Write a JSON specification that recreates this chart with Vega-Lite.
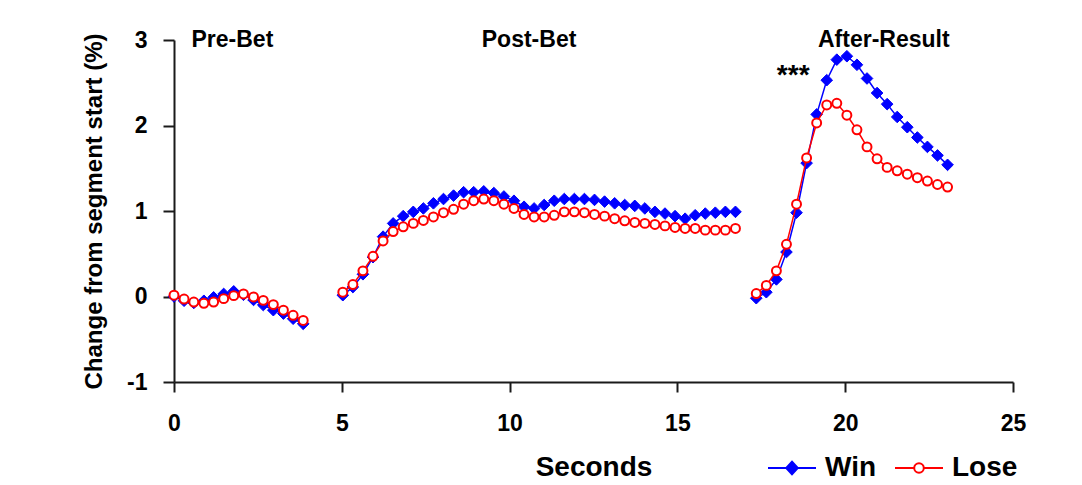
{
  "$schema": "https://vega.github.io/schema/vega-lite/v6.json",
  "width": 839,
  "height": 342,
  "autosize": {"type": "none"},
  "padding": {"left": 174, "top": 40, "right": 69, "bottom": 103},
  "background": "white",
  "config": {
    "view": {"stroke": null},
    "font": "Liberation Sans",
    "axis": {
      "grid": false,
      "domainColor": "#1a1a1a",
      "domainWidth": 2,
      "tickColor": "#1a1a1a",
      "tickWidth": 2,
      "labelFont": "Liberation Sans",
      "labelFontWeight": "bold",
      "labelColor": "#000000",
      "labelFontSize": 23,
      "titleFont": "Liberation Sans",
      "titleFontWeight": "bold",
      "titleColor": "#000000",
      "labelFlush": false,
      "labelOverlap": false
    }
  },
  "datasets": {
    "d": [
      {"t":0,"v":0.0,"s":"Win","g":"pre"},{"t":0.30,"v":-0.05,"s":"Win","g":"pre"},{"t":0.59,"v":-0.075,"s":"Win","g":"pre"},{"t":0.89,"v":-0.05,"s":"Win","g":"pre"},{"t":1.18,"v":-0.01,"s":"Win","g":"pre"},{"t":1.48,"v":0.03,"s":"Win","g":"pre"},{"t":1.78,"v":0.06,"s":"Win","g":"pre"},{"t":2.07,"v":0.02,"s":"Win","g":"pre"},{"t":2.37,"v":-0.04,"s":"Win","g":"pre"},{"t":2.66,"v":-0.10,"s":"Win","g":"pre"},{"t":2.96,"v":-0.16,"s":"Win","g":"pre"},{"t":3.26,"v":-0.20,"s":"Win","g":"pre"},{"t":3.55,"v":-0.26,"s":"Win","g":"pre"},{"t":3.85,"v":-0.32,"s":"Win","g":"pre"},
      {"t":5.03,"v":0.015,"s":"Win","g":"post"},{"t":5.33,"v":0.11,"s":"Win","g":"post"},{"t":5.63,"v":0.26,"s":"Win","g":"post"},{"t":5.93,"v":0.46,"s":"Win","g":"post"},{"t":6.23,"v":0.70,"s":"Win","g":"post"},{"t":6.53,"v":0.855,"s":"Win","g":"post"},{"t":6.83,"v":0.94,"s":"Win","g":"post"},{"t":7.13,"v":0.99,"s":"Win","g":"post"},{"t":7.43,"v":1.03,"s":"Win","g":"post"},{"t":7.73,"v":1.09,"s":"Win","g":"post"},{"t":8.03,"v":1.14,"s":"Win","g":"post"},{"t":8.33,"v":1.18,"s":"Win","g":"post"},{"t":8.63,"v":1.22,"s":"Win","g":"post"},{"t":8.93,"v":1.22,"s":"Win","g":"post"},{"t":9.23,"v":1.23,"s":"Win","g":"post"},{"t":9.53,"v":1.21,"s":"Win","g":"post"},{"t":9.83,"v":1.17,"s":"Win","g":"post"},{"t":10.13,"v":1.12,"s":"Win","g":"post"},{"t":10.43,"v":1.05,"s":"Win","g":"post"},{"t":10.73,"v":1.03,"s":"Win","g":"post"},{"t":11.03,"v":1.07,"s":"Win","g":"post"},{"t":11.33,"v":1.12,"s":"Win","g":"post"},{"t":11.63,"v":1.14,"s":"Win","g":"post"},{"t":11.93,"v":1.14,"s":"Win","g":"post"},{"t":12.23,"v":1.14,"s":"Win","g":"post"},{"t":12.53,"v":1.13,"s":"Win","g":"post"},{"t":12.83,"v":1.11,"s":"Win","g":"post"},{"t":13.13,"v":1.09,"s":"Win","g":"post"},{"t":13.43,"v":1.07,"s":"Win","g":"post"},{"t":13.73,"v":1.06,"s":"Win","g":"post"},{"t":14.03,"v":1.03,"s":"Win","g":"post"},{"t":14.33,"v":0.99,"s":"Win","g":"post"},{"t":14.63,"v":0.97,"s":"Win","g":"post"},{"t":14.93,"v":0.94,"s":"Win","g":"post"},{"t":15.23,"v":0.91,"s":"Win","g":"post"},{"t":15.53,"v":0.95,"s":"Win","g":"post"},{"t":15.83,"v":0.97,"s":"Win","g":"post"},{"t":16.13,"v":0.98,"s":"Win","g":"post"},{"t":16.43,"v":0.99,"s":"Win","g":"post"},{"t":16.73,"v":0.99,"s":"Win","g":"post"},
      {"t":17.35,"v":-0.02,"s":"Win","g":"after"},{"t":17.65,"v":0.05,"s":"Win","g":"after"},{"t":17.95,"v":0.20,"s":"Win","g":"after"},{"t":18.25,"v":0.52,"s":"Win","g":"after"},{"t":18.55,"v":0.98,"s":"Win","g":"after"},{"t":18.85,"v":1.56,"s":"Win","g":"after"},{"t":19.15,"v":2.13,"s":"Win","g":"after"},{"t":19.45,"v":2.53,"s":"Win","g":"after"},{"t":19.75,"v":2.77,"s":"Win","g":"after"},{"t":20.05,"v":2.81,"s":"Win","g":"after"},{"t":20.35,"v":2.71,"s":"Win","g":"after"},{"t":20.65,"v":2.55,"s":"Win","g":"after"},{"t":20.95,"v":2.38,"s":"Win","g":"after"},{"t":21.25,"v":2.25,"s":"Win","g":"after"},{"t":21.55,"v":2.10,"s":"Win","g":"after"},{"t":21.85,"v":1.98,"s":"Win","g":"after"},{"t":22.15,"v":1.86,"s":"Win","g":"after"},{"t":22.45,"v":1.75,"s":"Win","g":"after"},{"t":22.75,"v":1.65,"s":"Win","g":"after"},{"t":23.05,"v":1.54,"s":"Win","g":"after"},
      {"t":0,"v":0.015,"s":"Lose","g":"pre"},{"t":0.30,"v":-0.03,"s":"Lose","g":"pre"},{"t":0.59,"v":-0.065,"s":"Lose","g":"pre"},{"t":0.89,"v":-0.08,"s":"Lose","g":"pre"},{"t":1.18,"v":-0.065,"s":"Lose","g":"pre"},{"t":1.48,"v":-0.025,"s":"Lose","g":"pre"},{"t":1.78,"v":0.01,"s":"Lose","g":"pre"},{"t":2.07,"v":0.03,"s":"Lose","g":"pre"},{"t":2.37,"v":-0.005,"s":"Lose","g":"pre"},{"t":2.66,"v":-0.045,"s":"Lose","g":"pre"},{"t":2.96,"v":-0.095,"s":"Lose","g":"pre"},{"t":3.26,"v":-0.16,"s":"Lose","g":"pre"},{"t":3.55,"v":-0.22,"s":"Lose","g":"pre"},{"t":3.85,"v":-0.28,"s":"Lose","g":"pre"},
      {"t":5.03,"v":0.05,"s":"Lose","g":"post"},{"t":5.33,"v":0.14,"s":"Lose","g":"post"},{"t":5.63,"v":0.30,"s":"Lose","g":"post"},{"t":5.93,"v":0.47,"s":"Lose","g":"post"},{"t":6.23,"v":0.65,"s":"Lose","g":"post"},{"t":6.53,"v":0.76,"s":"Lose","g":"post"},{"t":6.83,"v":0.815,"s":"Lose","g":"post"},{"t":7.13,"v":0.855,"s":"Lose","g":"post"},{"t":7.43,"v":0.89,"s":"Lose","g":"post"},{"t":7.73,"v":0.93,"s":"Lose","g":"post"},{"t":8.03,"v":0.98,"s":"Lose","g":"post"},{"t":8.33,"v":1.02,"s":"Lose","g":"post"},{"t":8.63,"v":1.08,"s":"Lose","g":"post"},{"t":8.93,"v":1.12,"s":"Lose","g":"post"},{"t":9.23,"v":1.14,"s":"Lose","g":"post"},{"t":9.53,"v":1.12,"s":"Lose","g":"post"},{"t":9.83,"v":1.08,"s":"Lose","g":"post"},{"t":10.13,"v":1.03,"s":"Lose","g":"post"},{"t":10.43,"v":0.96,"s":"Lose","g":"post"},{"t":10.73,"v":0.93,"s":"Lose","g":"post"},{"t":11.03,"v":0.93,"s":"Lose","g":"post"},{"t":11.33,"v":0.95,"s":"Lose","g":"post"},{"t":11.63,"v":0.99,"s":"Lose","g":"post"},{"t":11.93,"v":0.99,"s":"Lose","g":"post"},{"t":12.23,"v":0.98,"s":"Lose","g":"post"},{"t":12.53,"v":0.96,"s":"Lose","g":"post"},{"t":12.83,"v":0.94,"s":"Lose","g":"post"},{"t":13.13,"v":0.91,"s":"Lose","g":"post"},{"t":13.43,"v":0.885,"s":"Lose","g":"post"},{"t":13.73,"v":0.866,"s":"Lose","g":"post"},{"t":14.03,"v":0.855,"s":"Lose","g":"post"},{"t":14.33,"v":0.843,"s":"Lose","g":"post"},{"t":14.63,"v":0.826,"s":"Lose","g":"post"},{"t":14.93,"v":0.808,"s":"Lose","g":"post"},{"t":15.23,"v":0.796,"s":"Lose","g":"post"},{"t":15.53,"v":0.796,"s":"Lose","g":"post"},{"t":15.83,"v":0.776,"s":"Lose","g":"post"},{"t":16.13,"v":0.776,"s":"Lose","g":"post"},{"t":16.43,"v":0.776,"s":"Lose","g":"post"},{"t":16.73,"v":0.796,"s":"Lose","g":"post"},
      {"t":17.35,"v":0.035,"s":"Lose","g":"after"},{"t":17.65,"v":0.13,"s":"Lose","g":"after"},{"t":17.95,"v":0.30,"s":"Lose","g":"after"},{"t":18.25,"v":0.61,"s":"Lose","g":"after"},{"t":18.55,"v":1.08,"s":"Lose","g":"after"},{"t":18.85,"v":1.62,"s":"Lose","g":"after"},{"t":19.15,"v":2.03,"s":"Lose","g":"after"},{"t":19.45,"v":2.24,"s":"Lose","g":"after"},{"t":19.75,"v":2.26,"s":"Lose","g":"after"},{"t":20.05,"v":2.12,"s":"Lose","g":"after"},{"t":20.35,"v":1.95,"s":"Lose","g":"after"},{"t":20.65,"v":1.75,"s":"Lose","g":"after"},{"t":20.95,"v":1.61,"s":"Lose","g":"after"},{"t":21.25,"v":1.51,"s":"Lose","g":"after"},{"t":21.55,"v":1.47,"s":"Lose","g":"after"},{"t":21.85,"v":1.43,"s":"Lose","g":"after"},{"t":22.15,"v":1.39,"s":"Lose","g":"after"},{"t":22.45,"v":1.35,"s":"Lose","g":"after"},{"t":22.75,"v":1.31,"s":"Lose","g":"after"},{"t":23.05,"v":1.28,"s":"Lose","g":"after"}
    ],
    "seg": [
      {"t": 1.74, "v": 3.0, "label": "Pre-Bet"},
      {"t": 10.58, "v": 3.0, "label": "Post-Bet"},
      {"t": 21.15, "v": 3.0, "label": "After-Result"}
    ],
    "sig": [
      {"t": 18.45, "v": 2.48, "label": "***"}
    ]
  },
  "encoding": {
    "x": {
      "field": "t", "type": "quantitative",
      "scale": {"domain": [0, 25], "nice": false, "zero": false},
      "axis": {"orient": "bottom", "values": [0, 5, 10, 15, 20, 25], "title": "Seconds", "titleFontSize": 28, "tickSize": 10, "labelPadding": 20, "titlePadding": 18}
    },
    "y": {
      "field": "v", "type": "quantitative",
      "scale": {"domain": [-1, 3], "nice": false, "zero": false},
      "axis": {"orient": "left", "values": [-1, 0, 1, 2, 3], "labelExpr": "datum.value", "title": "Change from segment start (%)", "titleFontSize": 24, "tickSize": 11, "labelPadding": 16, "titlePadding": 20}
    }
  },
  "layer": [
    {
      "data": {"name": "d"},
      "transform": [{"filter": "datum.s === 'Win'"}],
      "mark": {"type": "line", "stroke": "#0000FF", "strokeWidth": 1.5},
      "encoding": {"detail": {"field": "g"}}
    },
    {
      "data": {"name": "d"},
      "transform": [{"filter": "datum.s === 'Win'"}],
      "mark": {"type": "point", "shape": "diamond", "filled": true, "fill": "#0000FF", "stroke": "#0000FF", "size": 135, "strokeWidth": 1, "opacity": 1}
    },
    {
      "data": {"name": "d"},
      "transform": [{"filter": "datum.s === 'Lose'"}],
      "mark": {"type": "line", "stroke": "#FF0000", "strokeWidth": 1.5},
      "encoding": {"detail": {"field": "g"}}
    },
    {
      "data": {"name": "d"},
      "transform": [{"filter": "datum.s === 'Lose'"}],
      "mark": {"type": "point", "shape": "circle", "filled": true, "fill": "#FFFFFF", "stroke": "#FF0000", "size": 80, "strokeWidth": 2, "opacity": 1}
    },
    {
      "data": {"name": "d"},
      "transform": [{"filter": "false"}],
      "mark": {"type": "point", "filled": true, "opacity": 1, "strokeWidth": 2, "size": 2304},
      "encoding": {
        "shape": {
          "field": "s", "type": "nominal",
          "scale": {"domain": ["Win", "Lose"], "range": ["M-1,0L1,0M0,-0.26L0.24,0L0,0.26L-0.24,0Z", "M-1,0L-0.2,0M0.2,0L1,0M0.2,0A0.2,0.2,0,1,1,-0.2,0A0.2,0.2,0,1,1,0.2,0Z"]},
          "legend": {
            "title": null,
            "orient": "none",
            "legendX": 593,
            "legendY": 403,
            "direction": "horizontal",
            "symbolSize": 2304,
            "symbolStrokeWidth": 2,
            "labelFont": "Liberation Sans",
            "labelFontSize": 28,
            "labelFontWeight": "bold",
            "labelColor": "#000000",
            "labelOffset": 8,
            "columnPadding": 14
          }
        },
        "stroke": {
          "field": "s", "type": "nominal",
          "scale": {"domain": ["Win", "Lose"], "range": ["#0000FF", "#FF0000"]},
          "legend": {"title": null}
        },
        "fill": {
          "field": "s", "type": "nominal",
          "scale": {"domain": ["Win", "Lose"], "range": ["#0000FF", "#FFFFFF"]},
          "legend": {"title": null}
        }
      }
    },
    {
      "data": {"name": "seg"},
      "mark": {"type": "text", "font": "Liberation Sans", "fontWeight": "bold", "fontSize": 23, "color": "#000000", "baseline": "middle", "align": "center"},
      "encoding": {"text": {"field": "label"}}
    },
    {
      "data": {"name": "sig"},
      "mark": {"type": "text", "font": "Liberation Sans", "fontWeight": "bold", "fontSize": 28, "color": "#000000", "baseline": "alphabetic", "align": "center"},
      "encoding": {"text": {"field": "label"}}
    }
  ]
}
